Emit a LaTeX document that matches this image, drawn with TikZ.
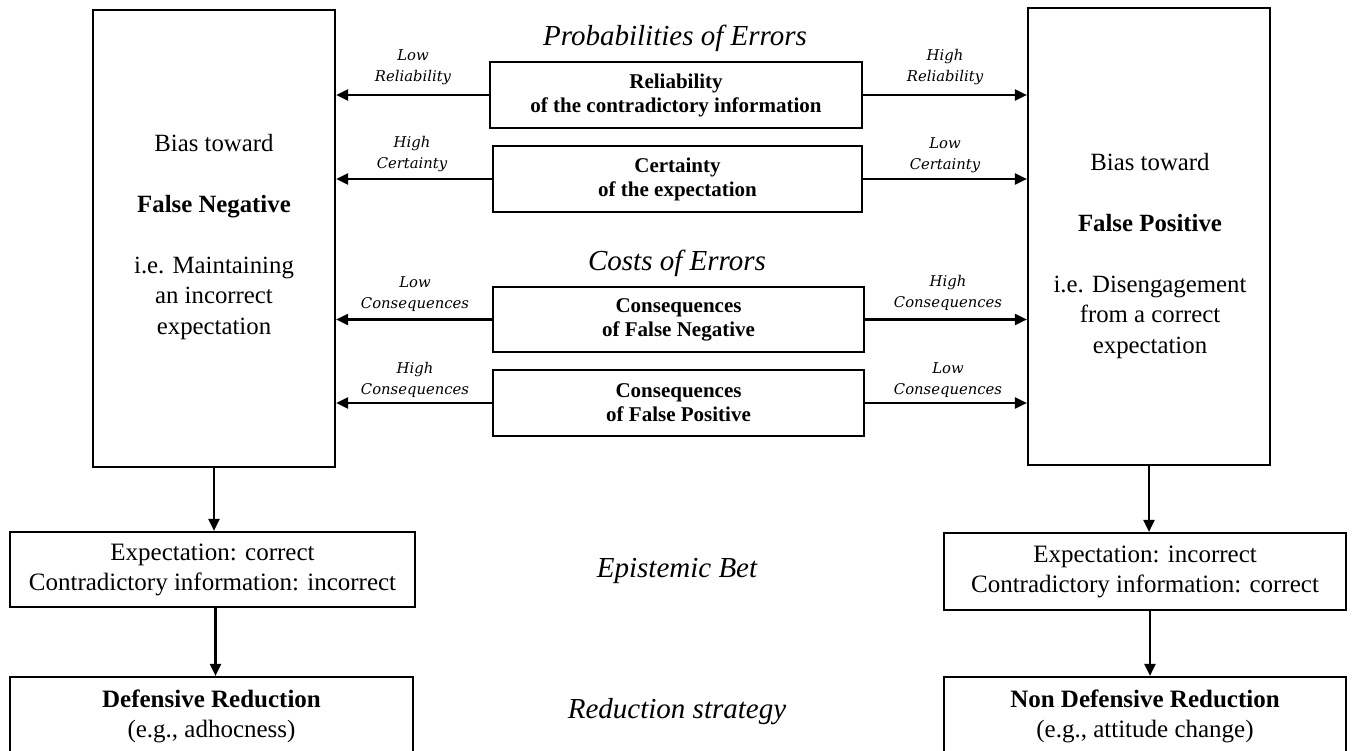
\documentclass[tikz,border=0pt]{standalone}
\usepackage{fontspec}
\setmainfont{Liberation Serif}
\newfontfamily\lblfont{DejaVu Serif}
\usetikzlibrary{arrows.meta}
\begin{document}
\begin{tikzpicture}[x=1pt,y=-1pt,
  box/.style={draw, line width=2.2pt, inner sep=0pt, align=center},
  smallbox/.style={box, font=\fontsize{21}{24}\selectfont\bfseries},
  bigtext/.style={align=center, inner sep=0pt, font=\fontsize{24.8}{30.5}\selectfont},
  midtext/.style={box, font=\fontsize{25}{30}\selectfont},
  lbl/.style={align=center, inner sep=0pt, font=\lblfont\itshape\fontsize{14.8}{21.5}\selectfont},
  ttl/.style={inner sep=0pt, font=\itshape\fontsize{29}{30}\selectfont},
  arr/.style={line width=2.2pt, -{Triangle[length=12pt,width=11pt]}}]
\useasboundingbox (0,0) rectangle (1354,750);
\clip (0,0) rectangle (1354,750);
\fill[white] (0,0) rectangle (1354,750);

% big side boxes
\node[box, minimum width=242, minimum height=457] (fn) at (214,238.5) {};
\node[box, minimum width=242, minimum height=457] (fp) at (1149,236.5) {};
\node[bigtext] (fnt) at (214,237) {Bias toward\\[30.5pt]\textbf{False Negative}\\[30.5pt]i.e. Maintaining\\an incorrect\\expectation};
\node[bigtext] (fpt) at (1150,256) {Bias toward\\[30.5pt]\textbf{False Positive}\\[30.5pt]i.e. Disengagement\\from a correct\\expectation};

% titles
\node[ttl] (t1) at (675,38) {Probabilities of Errors};
\node[ttl] (t2) at (677,263) {Costs of Errors};
\node[ttl] (t3) at (677,571) {Epistemic Bet};
\node[ttl] (t4) at (677,712) {Reduction strategy};

% central boxes
\node[smallbox, minimum width=372, minimum height=66] (r1) at (676,95) {Reliability\\of the contradictory information};
\node[smallbox, minimum width=369, minimum height=66] (c1) at (677.5,179) {Certainty\\of the expectation};
\node[smallbox, minimum width=371, minimum height=65] (cfn) at (678.5,319.5) {Consequences\\of False Negative};
\node[smallbox, minimum width=371, minimum height=66] (cfp) at (678.5,403) {Consequences\\of False Positive};

% arrows to sides
\foreach \b in {r1,c1,cfn,cfp}{
  \draw[arr] (\b.west) -- (\b.west -| fn.east);
  \draw[arr] (\b.east) -- (\b.east -| fp.west);
}

% labels
\node[lbl] (l1) at (413,67) {Low\\Reliability};
\node[lbl] (l2) at (412,154) {High\\Certainty};
\node[lbl] (l3) at (415,294) {Low\\Consequences};
\node[lbl] (l4) at (415,380) {High\\Consequences};
\node[lbl] (l5) at (945,67) {High\\Reliability};
\node[lbl] (l6) at (945,155) {Low\\Certainty};
\node[lbl] (l7) at (948,293) {High\\Consequences};
\node[lbl] (l8) at (948,380) {Low\\Consequences};

% epistemic bet boxes
\node[midtext, minimum width=405, minimum height=75] (ebl) at (212.5,569.5) {Expectation: correct\\Contradictory information: incorrect};
\node[midtext, minimum width=402, minimum height=77] (ebr) at (1145,571.5) {Expectation: incorrect\\Contradictory information: correct};

% reduction boxes
\node[midtext, minimum width=403, minimum height=78] (drl) at (211.5,716) {\textbf{Defensive Reduction}\\(e.g., adhocness)};
\node[midtext, minimum width=402, minimum height=78] (drr) at (1145,716) {\textbf{Non Defensive Reduction}\\(e.g., attitude change)};

% vertical arrows
\draw[arr] (fn.south) -- (fn.south |- ebl.north);
\draw[arr] (fp.south) -- (fp.south |- ebr.north);
\draw[arr] ([xshift=3pt]ebl.south) -- ([xshift=3pt]ebl.south |- drl.north);
\draw[arr] ([xshift=5pt]ebr.south) -- ([xshift=5pt]ebr.south |- drr.north);
\end{tikzpicture}
\end{document}
